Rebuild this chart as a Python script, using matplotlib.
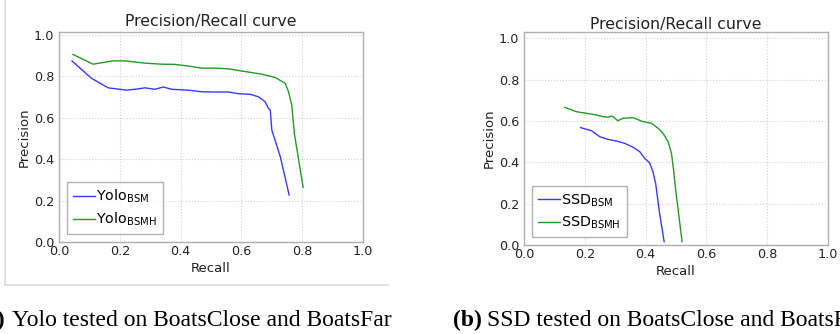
import matplotlib
matplotlib.use("Agg")
import matplotlib.pyplot as plt
from matplotlib.lines import Line2D

# Yolo panel (a)
yolo_bsm_recall = [0.043, 0.107, 0.162, 0.222, 0.255, 0.283, 0.316, 0.343, 0.371, 0.425,
                   0.470, 0.513, 0.557, 0.590, 0.629, 0.656, 0.678, 0.689, 0.695, 0.700,
                   0.728, 0.757]
yolo_bsm_prec = [0.873, 0.790, 0.744, 0.733, 0.738, 0.744, 0.737, 0.748, 0.737, 0.733,
                 0.725, 0.724, 0.724, 0.716, 0.713, 0.701, 0.677, 0.645, 0.637, 0.541,
                 0.412, 0.228]
yolo_bsmh_recall = [0.046, 0.112, 0.178, 0.217, 0.283, 0.338, 0.381, 0.425, 0.470, 0.513,
                    0.557, 0.601, 0.667, 0.711, 0.744, 0.755, 0.766, 0.774, 0.803]
yolo_bsmh_prec = [0.905, 0.858, 0.874, 0.874, 0.863, 0.858, 0.857, 0.849, 0.839, 0.839,
                  0.836, 0.825, 0.810, 0.794, 0.766, 0.725, 0.658, 0.525, 0.265]

# SSD panel (b)
ssd_bsm_recall = [0.186, 0.222, 0.249, 0.276, 0.304, 0.331, 0.359, 0.381, 0.397, 0.413,
                  0.424, 0.433, 0.446, 0.461]
ssd_bsm_prec = [0.568, 0.553, 0.524, 0.511, 0.503, 0.492, 0.473, 0.451, 0.419, 0.398,
                0.355, 0.298, 0.153, 0.016]
ssd_bsmh_recall = [0.134, 0.172, 0.205, 0.238, 0.260, 0.276, 0.290, 0.309, 0.325, 0.359,
                   0.391, 0.419, 0.441, 0.457, 0.474, 0.485, 0.492, 0.499, 0.520]
ssd_bsmh_prec = [0.666, 0.645, 0.637, 0.629, 0.621, 0.618, 0.624, 0.601, 0.613, 0.616,
                 0.597, 0.589, 0.565, 0.541, 0.500, 0.444, 0.363, 0.266, 0.016]

ticks = [0.0, 0.2, 0.4, 0.6, 0.8, 1.0]

W, H = 840, 334
fig = plt.figure(figsize=(8.4, 3.34), dpi=100)


def px_axes(x0, x1, ytop, ybot):
    return fig.add_axes([x0 / W, (H - ybot) / H, (x1 - x0) / W, (ybot - ytop) / H])


def style(ax, ytop, title_pad, prec_pad):
    ax.set_xlim(0, 1)
    ax.set_ylim(0, ytop)
    ax.set_xticks(ticks)
    ax.set_yticks(ticks)
    ax.set_xticklabels([f"{t:.1f}" for t in ticks])
    ax.set_yticklabels([f"{t:.1f}" for t in ticks])
    ax.tick_params(length=0, labelsize=9.2, colors="#222222")
    ax.tick_params(axis="x", pad=2)
    ax.tick_params(axis="y", pad=3.5)
    ax.grid(True, linestyle=":", color="#d2d2d2", linewidth=0.8)
    for s in ax.spines.values():
        s.set_color("#b0b0b0")
        s.set_linewidth(1.0)
    ax.set_title("Precision/Recall curve", fontsize=11.3, pad=title_pad, color="#222222")
    ax.set_xlabel("Recall", fontsize=9.5, labelpad=3, color="#222222")
    ax.set_ylabel("Precision", fontsize=9.5, labelpad=prec_pad, color="#222222")


def legend(ax, labels):
    leg = ax.legend(labels, loc="lower left", fontsize=10.3, fancybox=False,
                    handlelength=1.55, handletextpad=0.08, borderaxespad=0.55,
                    labelspacing=0.42, borderpad=0.42)
    leg.get_frame().set_edgecolor("#a0a0a0")
    leg.get_frame().set_linewidth(1.0)


# panel (a)
ax1 = px_axes(59, 363, 31.7, 242.3)
ax1.plot(yolo_bsm_recall, yolo_bsm_prec, color="#3a3aff", lw=1.0)
ax1.plot(yolo_bsmh_recall, yolo_bsmh_prec, color="#249a24", lw=1.0)
style(ax1, 1.0145, 4, 2)
legend(ax1, [r"Yolo$_{\mathsf{BSM}}$", r"Yolo$_{\mathsf{BSMH}}$"])

# panel (b)
ax2 = px_axes(524, 828, 32.3, 245)
ax2.plot(ssd_bsm_recall, ssd_bsm_prec, color="#3a3aff", lw=1.0)
ax2.plot(ssd_bsmh_recall, ssd_bsmh_prec, color="#249a24", lw=1.0)
style(ax2, 1.029, 2, 2)
legend(ax2, [r"SSD$_{\mathsf{BSM}}$", r"SSD$_{\mathsf{BSMH}}$"])

# frame around left panel image
frame_col = "#d8d8d8"
fig.add_artist(Line2D([5 / W, 5 / W], [1, (H - 285) / H], color=frame_col, lw=1.1,
                      transform=fig.transFigure))
fig.add_artist(Line2D([5 / W, 388 / W], [(H - 285) / H, (H - 285) / H], color=frame_col,
                      lw=1.1, transform=fig.transFigure))

# captions
cap_y = (H - 326) / H
cap_size = 17.0
fig.text(5 / W, cap_y, "(a)", ha="right", va="baseline", fontsize=cap_size,
         family="Liberation Serif", weight="bold")
fig.text(12 / W, cap_y, "Yolo tested on BoatsClose and BoatsFar", ha="left",
         va="baseline", fontsize=cap_size, family="Liberation Serif")
fig.text(453 / W, cap_y, "(b)", ha="left", va="baseline", fontsize=cap_size,
         family="Liberation Serif", weight="bold")
fig.text(487 / W, cap_y, "SSD tested on BoatsClose and BoatsFar", ha="left",
         va="baseline", fontsize=cap_size, family="Liberation Serif")

fig.savefig("out.png", dpi=100)
